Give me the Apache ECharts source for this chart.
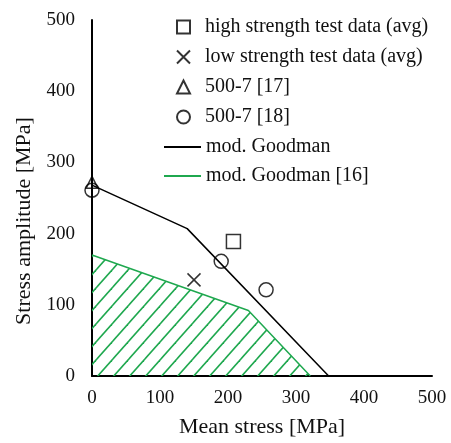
<!DOCTYPE html>
<html><head><meta charset="utf-8">
<script src="https://cdn.jsdelivr.net/npm/echarts@6/dist/echarts.min.js"></script>
<style>html,body{margin:0;padding:0;background:#fff}#c{width:451px;height:443px}</style>
</head><body><div id="c"></div>
<script>
// Data
const goodman = [[0, 268], [140, 207], [348, 0]];
const goodman16 = [[0, 170], [230, 92], [321, 0]];
const highStrength = [[208, 189]];
const lowStrength = [[150, 135]];
const ref17 = [[0, 272]];
const ref18 = [[0, 261], [190, 161], [256, 121]];
const xTicks = [0, 100, 200, 300, 400, 500];
const yTicks = [0, 100, 200, 300, 400, 500];

const FONT = '"Liberation Serif", "Times New Roman", serif';
const GREEN = '#1fa84f';

// hatch pattern
const tw = 16, th = 18;
const pat = document.createElement('canvas');
pat.width = tw; pat.height = th;
const pc = pat.getContext('2d');
pc.strokeStyle = GREEN; pc.lineWidth = 1.6;
for (const dx of [-tw, 0, tw]) {
  pc.beginPath();
  pc.moveTo(dx - tw, 2 * th);
  pc.lineTo(dx + 2 * tw, -th);
  pc.stroke();
}

const hollow = {color: 'rgba(0,0,0,0)', borderColor: '#000', borderWidth: 1.5};

const chart = echarts.init(document.getElementById('c'), null, {renderer: 'canvas'});
chart.setOption({
  animation: false,
  backgroundColor: '#fff',
  textStyle: {fontFamily: FONT},
  grid: {left: 92, right: 19, top: 20, bottom: 64},
  legend: [{
    data: ['high strength test data (avg)', 'low strength test data (avg)', '500-7 [17]', '500-7 [18]'],
    orient: 'vertical', left: 171, top: 12,
    itemWidth: 13, itemHeight: 13, itemGap: 10,
    textStyle: {fontFamily: FONT, fontSize: 20, color: '#111', lineHeight: 20, padding: [0, 0, 0, 10]}
  }, {
    data: ['mod. Goodman', 'mod. Goodman [16]'],
    orient: 'vertical', left: 158, top: 132,
    itemWidth: 37, itemHeight: 13, itemGap: 9,
    itemStyle: {opacity: 0},
    textStyle: {fontFamily: FONT, fontSize: 20, color: '#111', lineHeight: 20}
  }],
  xAxis: {
    type: 'value', min: 0, max: 500, interval: 100,
    name: 'Mean stress [MPa]', nameLocation: 'middle', nameGap: 40,
    nameTextStyle: {fontFamily: FONT, fontSize: 22, color: '#111'},
    axisLine: {show: true, onZero: false, lineStyle: {color: '#000', width: 2}},
    axisTick: {show: false}, splitLine: {show: false},
    axisLabel: {fontFamily: FONT, fontSize: 19, color: '#111', margin: 13,
      formatter: v => xTicks.includes(v) ? String(v) : ''}
  },
  yAxis: {
    type: 'value', min: 0, max: 500, interval: 100,
    name: 'Stress amplitude [MPa]', nameLocation: 'middle', nameGap: 56,
    nameTextStyle: {fontFamily: FONT, fontSize: 22, color: '#111', padding: [0, 46, 0, 0]},
    axisLine: {show: true, onZero: false, lineStyle: {color: '#000', width: 2}},
    axisTick: {show: false}, splitLine: {show: false},
    axisLabel: {fontFamily: FONT, fontSize: 19, color: '#111', margin: 17,
      formatter: v => yTicks.includes(v) ? String(v) : ''}
  },
  series: [
    {name: 'mod. Goodman [16]', type: 'line', data: goodman16, symbol: 'none',
      lineStyle: {color: GREEN, width: 1.5}, itemStyle: {color: GREEN},
      areaStyle: {color: {image: pat, repeat: 'repeat'}, opacity: 1, origin: 'start'}, z: 1},
    {name: 'mod. Goodman', type: 'line', data: goodman, symbol: 'none',
      lineStyle: {color: '#000', width: 1.5}, itemStyle: {color: '#000'}, z: 2},
    {name: 'high strength test data (avg)', type: 'scatter', data: highStrength,
      symbol: 'rect', symbolSize: 14, itemStyle: hollow, z: 3},
    {name: 'low strength test data (avg)', type: 'scatter', data: lowStrength,
      symbol: 'path://M0,0L10,10M10,0L0,10', symbolSize: 13, itemStyle: hollow, z: 3},
    {name: '500-7 [17]', type: 'scatter', data: ref17,
      symbol: 'triangle', symbolSize: 12, itemStyle: hollow, z: 3},
    {name: '500-7 [18]', type: 'scatter', data: ref18,
      symbol: 'circle', symbolSize: 14, itemStyle: hollow, z: 3}
  ]
});
</script></body></html>
